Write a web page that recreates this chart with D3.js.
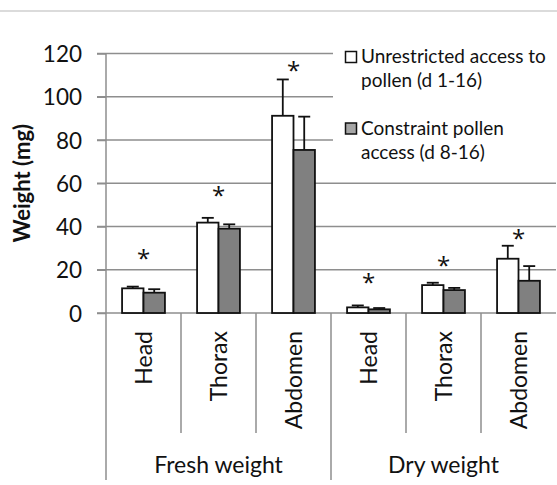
<!DOCTYPE html>
<html>
<head>
<meta charset="utf-8">
<script src="https://cdn.jsdelivr.net/npm/d3@7"></script>
<style>
  body { margin: 0; background: #fff; }
  svg { display: block; font-family: Lato, "Open Sans", sans-serif; }
</style>
</head>
<body>
<div id="chart"></div>
<script>
// Chart data
const groups = ["Fresh weight", "Dry weight"];
const parts = ["Head", "Thorax", "Abdomen"];
const seriesNames = ["Unrestricted access to pollen (d 1-16)", "Constraint pollen access (d 8-16)"];
const unrestricted = [11.4, 41.8, 91.2, 2.6, 12.9, 25.1];
const unrestrictedErr = [0.8, 2.2, 16.8, 0.9, 1.1, 6.0];
const constraint = [9.4, 39.0, 75.4, 1.7, 10.6, 14.9];
const constraintErr = [1.6, 2.0, 15.4, 0.6, 1.0, 6.8];
const starLevel = [26.8, 56, 113.9, 15.7, 23.8, 36.1]; // where the * marks sit
const yTicks = [0, 20, 40, 60, 80, 100, 120];

const width = 557, height = 485;
const margin = {top: 53.5, right: 1, bottom: 172, left: 106};
const gridColor = "#8e8e8e";

const svg = d3.select("#chart").append("svg")
    .attr("width", width)
    .attr("height", height);

// thin separator on top
svg.append("line")
    .attr("x1", 0).attr("x2", width)
    .attr("y1", 11).attr("y2", 11)
    .attr("stroke", "#cfcfcf").attr("stroke-width", 1.5);

// build one row per category
const rows = [];
groups.forEach((g, gi) => parts.forEach((p, pi) => {
    const i = gi * parts.length + pi;
    rows.push({
        key: g + "|" + p, group: g, part: p,
        vals: [
            {s: 0, v: unrestricted[i], e: unrestrictedErr[i]},
            {s: 1, v: constraint[i], e: constraintErr[i]}
        ],
        star: starLevel[i]
    });
}));

const x = d3.scaleBand()
    .domain(rows.map(d => d.key))
    .range([margin.left, width - margin.right]);

const xSub = d3.scaleBand()
    .domain([0, 1])
    .range([0, x.bandwidth()])
    .paddingOuter(0.75);

const y = d3.scaleLinear()
    .domain([0, 120])
    .range([height - margin.bottom, margin.top]);

const y0 = y(0);

// gridlines
svg.append("g")
    .selectAll("line")
    .data(yTicks.filter(t => t > 0))
    .enter().append("line")
    .attr("x1", margin.left - 9).attr("x2", width - margin.right)
    .attr("y1", d => y(d)).attr("y2", d => y(d))
    .attr("stroke", gridColor).attr("stroke-width", 1.5);

// y axis
const yAxis = svg.append("g")
    .attr("transform", `translate(${margin.left},0)`)
    .call(d3.axisLeft(y).tickValues(yTicks).tickSize(9).tickPadding(15));
yAxis.select(".domain").remove();
yAxis.selectAll(".tick line").attr("stroke", gridColor).attr("stroke-width", 1.5);
yAxis.selectAll(".tick text")
    .attr("fill", "#111")
    .style("font-family", "Lato, sans-serif")
    .style("font-size", "22.5px")
    .attr("dy", "0.36em");

// y axis line runs down through the category labels
svg.append("line")
    .attr("x1", margin.left).attr("x2", margin.left)
    .attr("y1", y(120)).attr("y2", 480)
    .attr("stroke", gridColor).attr("stroke-width", 1.5);

// y axis title
svg.append("text")
    .attr("transform", `translate(30,${(y(0) + y(120)) / 2}) rotate(-90)`)
    .attr("text-anchor", "middle")
    .style("font-size", "22px")
    .style("font-weight", "bold")
    .attr("fill", "#111")
    .text("Weight (mg)");

// legend background, hides the top gridlines
const legend = svg.append("g");
legend.append("rect")
    .attr("x", 333).attr("y", 40)
    .attr("width", width - 333).attr("height", 130)
    .attr("fill", "#fff");

const legendLines = [["Unrestricted access to", "pollen (d 1-16)"], ["Constraint pollen", "access (d 8-16)"]];
const seriesFill = ["#ffffff", "#808080"];
legendLines.forEach((lines, i) => {
    const top = 51.5 + i * 71.5;
    legend.append("rect")
        .attr("x", 345.5).attr("y", top)
        .attr("width", 11).attr("height", 11)
        .attr("fill", i ? "#a6a6a6" : "#fff")
        .attr("stroke", "#111").attr("stroke-width", 1.5);
    lines.forEach((t, j) => {
        legend.append("text")
            .attr("x", 361)
            .attr("y", top + 11.5 + j * 24)
            .style("font-size", "19px")
            .attr("fill", "#111")
            .text(t);
    });
});

// x axis line
svg.append("line")
    .attr("x1", margin.left - 9).attr("x2", width - margin.right)
    .attr("y1", y0).attr("y2", y0)
    .attr("stroke", gridColor).attr("stroke-width", 1.5);

// category dividers
rows.forEach((d, i) => {
    if (i === 0) return;
    const isGroup = i % parts.length === 0;
    svg.append("line")
        .attr("x1", x(d.key)).attr("x2", x(d.key))
        .attr("y1", y0).attr("y2", isGroup ? 480 : 433)
        .attr("stroke", gridColor).attr("stroke-width", 1.5);
});

// bars
const cat = svg.selectAll("g.cat")
    .data(rows)
    .enter().append("g")
    .attr("class", "cat")
    .attr("transform", d => `translate(${x(d.key)},0)`);

// error bars (upward only)
cat.selectAll("g.err")
    .data(d => d.vals)
    .enter().append("g")
    .attr("class", "err")
    .each(function(d) {
        const cx = xSub(d.s) + xSub.bandwidth() / 2;
        const g = d3.select(this);
        g.append("line")
            .attr("x1", cx).attr("x2", cx)
            .attr("y1", y(d.v)).attr("y2", y(d.v + d.e))
            .attr("stroke", "#111").attr("stroke-width", 1.8);
        g.append("line")
            .attr("x1", cx - 6).attr("x2", cx + 6)
            .attr("y1", y(d.v + d.e)).attr("y2", y(d.v + d.e))
            .attr("stroke", "#111").attr("stroke-width", 1.8);
    });

cat.selectAll("rect")
    .data(d => d.vals)
    .enter().append("rect")
    .attr("x", d => xSub(d.s))
    .attr("width", xSub.bandwidth())
    .attr("y", d => y(d.v))
    .attr("height", d => y0 - y(d.v))
    .attr("fill", d => seriesFill[d.s])
    .attr("stroke", "#111").attr("stroke-width", 1.8);

// significance stars
cat.append("text")
    .attr("x", x.bandwidth() / 2)
    .attr("y", d => y(d.star) + 12)
    .attr("text-anchor", "middle")
    .style("font-family", "'Open Sans', sans-serif")
    .style("font-size", "24px")
    .attr("fill", "#111")
    .text("*");

// part labels, rotated
cat.append("text")
    .attr("transform", `translate(${x.bandwidth() / 2 + 8},${y0 + 18}) rotate(-90)`)
    .attr("text-anchor", "end")
    .style("font-size", "23px")
    .attr("fill", "#111")
    .text(d => d.part);

// group labels
groups.forEach((g, gi) => {
    const first = x(rows[gi * parts.length].key);
    svg.append("text")
        .attr("x", first + x.bandwidth() * parts.length / 2)
        .attr("y", 473)
        .attr("text-anchor", "middle")
        .style("font-size", "23px")
        .attr("fill", "#111")
        .text(g);
});
</script>
</body>
</html>
